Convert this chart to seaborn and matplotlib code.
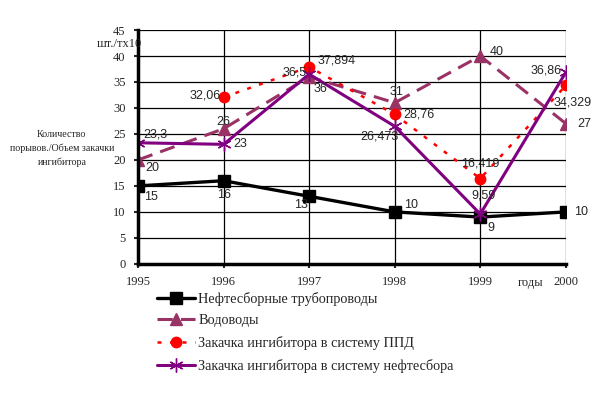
import matplotlib
matplotlib.use("Agg")
import matplotlib.pyplot as plt
import numpy as np
import pandas as pd
import seaborn as sns

years = [1995, 1996, 1997, 1998, 1999, 2000]
pipelines = [15, 16, 13, 10, 9, 10]
water = [20, 26, 36, 31, 40, 27]
ppd = [np.nan, 32.06, 37.894, 28.76, 16.419, 34.329]
oilsys = [23.3, 23, 36.5, 26.473, 9.59, 36.86]

pipelines_lbl = ["15", "16", "13", "10", "9", "10"]
water_lbl = ["20", "26", "36", "31", "40", "27"]
ppd_lbl = ["", "32,06", "37,894", "28,76", "16,419", "34,329"]
oilsys_lbl = ["23,3", "23", "36,5", "26,473", "9,59", "36,86"]

names = [
    "Нефтесборные трубопроводы",
    "Водоводы",
    "Закачка ингибитора в систему ППД",
    "Закачка ингибитора в систему нефтесбора",
]

sns.set_style("white")
plt.rcParams["font.family"] = ["Liberation Serif", "DejaVu Serif"]

fig = plt.figure(figsize=(5.95, 3.95), dpi=100)
ax = fig.add_axes([0.232, 0.332, 0.719, 0.592])

# colour, marker, marker size, line width, dash pattern (None = solid)
styles = [
    ("black", "s", 8, 2.4, None),
    ("#993366", "^", 9, 2.2, (5, 2.7)),
    ("red", "o", 7.5, 1.8, (1.6, 3.4)),
    ("#800080", (6, 2, 0), 10, 2.2, None),
]
series = [pipelines, water, ppd, oilsys]
for vals, name, (col, mk, ms, lw, dash) in zip(series, names, styles):
    df = pd.DataFrame({"year": years, "val": vals}).dropna()
    sns.lineplot(data=df, x="year", y="val", ax=ax, label=name, color=col,
                 marker=mk, markersize=ms, linewidth=lw,
                 markeredgecolor=col, markeredgewidth=1)
    if dash is not None:
        ax.lines[-1].set_dashes(dash)

ax.set_xlim(1995, 2000)
ax.set_ylim(0, 45)
ax.set_xticks(years)
ax.set_yticks(range(0, 46, 5))
ax.grid(True, color="black", lw=0.9)
ax.set_axisbelow(True)
for s in ["top", "right"]:
    ax.spines[s].set_visible(False)
for s in ["left", "bottom"]:
    ax.spines[s].set_linewidth(2.5)
    ax.spines[s].set_color("black")
ax.tick_params(axis="both", labelsize=9, length=3, width=1.5, direction="out",
               left=True, bottom=True, pad=6)
ax.set_xlabel("")
ax.set_ylabel("")

lab = dict(fontsize=9, family=["Liberation Sans", "DejaVu Sans"])
# data labels: (dx, dy) offsets in points, alignment
pipe_off = [(4, -8, "left"), (0, -10, "center"), (-1, -6, "right"), (7, 5, "left"),
            (5, -8, "left"), (6, 0, "left")]
water_off = [(5, -6, "left"), (0, 5, "center"), (3, -9, "left"), (1, 8, "center"),
             (7, 3, "left"), (8, 0, "left")]
ppd_off = [None, (-2, 1, "right"), (6, 5, "left"), (6, 0, "left"),
           (0, 11, "center"), (5, -12, "center")]
oil_off = [(4, 6, "left"), (7, 0, "left"), (-2, 1, "right"), (3, -7, "right"),
           (2, 13, "center"), (-3, 1, "right")]
for vals, lbls, offs in [(pipelines, pipelines_lbl, pipe_off),
                         (water, water_lbl, water_off),
                         (ppd, ppd_lbl, ppd_off),
                         (oilsys, oilsys_lbl, oil_off)]:
    for x, v, t, o in zip(years, vals, lbls, offs):
        if o is None or not t:
            continue
        ax.annotate(t, (x, v), xytext=(o[0], o[1]), textcoords="offset points",
                    ha=o[2], va="center", **lab)

fig.text(0.162, 0.888, "шт./тх10", fontsize=9, ha="left", va="center")
fig.text(0.104, 0.625, "Количество\nпорывов./Объем закачки\nингибитора", fontsize=7.2,
         ha="center", va="center", linespacing=1.6)
fig.text(0.87, 0.283, "годы", fontsize=9, ha="left", va="center")

ax.legend(loc="upper left", bbox_to_anchor=(0.03, -0.095), frameon=False,
          fontsize=10.3, handlelength=2.7, handletextpad=0.2, labelspacing=0.6,
          borderaxespad=0)

fig.savefig("out.png", dpi=100)
